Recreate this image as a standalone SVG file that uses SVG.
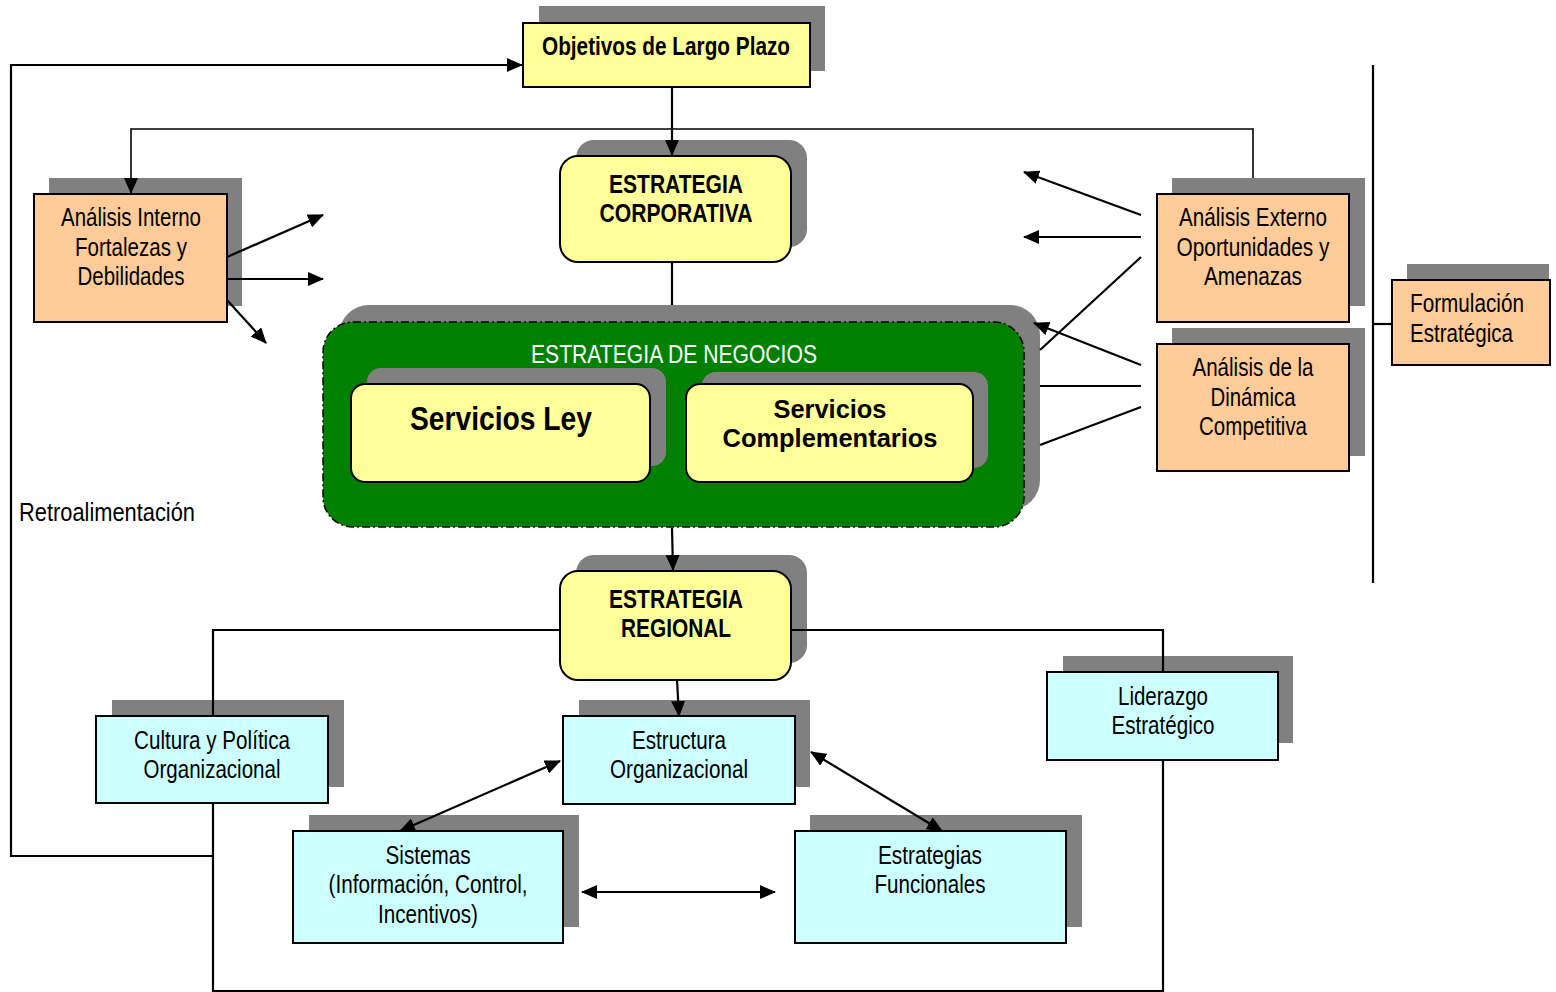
<svg xmlns="http://www.w3.org/2000/svg" width="1556" height="992" viewBox="0 0 1556 992">
<style>
.sh{fill:#808080}
.box{stroke:#000;stroke-width:2}
.pe{fill:#FFCC99}
.ye{fill:#FFFF99}
.cy{fill:#CCFFFF}
.t{font-family:"Liberation Sans Narrow","Arial Narrow","Liberation Sans",Arial,sans-serif;font-size:25px;text-anchor:middle;fill:#000}
.l{text-anchor:start}
.b{font-weight:bold}
.w{fill:#fff}
.c{fill:none;stroke:#000;stroke-width:2.2}
.thin{stroke-width:1.6}
</style>
<defs>
<marker id="ah" viewBox="0 0 16 14" refX="15" refY="7" markerWidth="16" markerHeight="14" markerUnits="userSpaceOnUse" orient="auto-start-reverse">
<path d="M0,0 L16,7 L0,14 z" fill="#000"/>
</marker>
</defs>

<g id="n-objetivos">
<rect class="sh" x="539" y="6" width="286" height="65"/>
<rect class="box ye" x="523" y="23" width="287" height="64"/>
<text class="t b" x="666" y="55" textLength="248" lengthAdjust="spacingAndGlyphs">Objetivos de Largo Plazo</text>
</g>

<g id="n-corporativa">
<rect class="sh" x="576" y="140" width="231" height="107" rx="18"/>
<rect class="box ye" x="560" y="156" width="231" height="106" rx="18"/>
<text class="t b" x="676" y="193" textLength="134" lengthAdjust="spacingAndGlyphs">ESTRATEGIA</text>
<text class="t b" x="676" y="222" textLength="153" lengthAdjust="spacingAndGlyphs">CORPORATIVA</text>
</g>

<g id="n-interno">
<rect class="sh" x="49" y="178" width="193" height="128"/>
<rect class="box pe" x="34" y="194" width="193" height="128"/>
<text class="t" x="131" y="226" textLength="140" lengthAdjust="spacingAndGlyphs">Análisis Interno</text>
<text class="t" x="131" y="256" textLength="112" lengthAdjust="spacingAndGlyphs">Fortalezas y</text>
<text class="t" x="131" y="285" textLength="107" lengthAdjust="spacingAndGlyphs">Debilidades</text>
</g>

<g id="n-externo">
<rect class="sh" x="1172" y="178" width="193" height="128"/>
<rect class="box pe" x="1157" y="194" width="192" height="128"/>
<text class="t" x="1253" y="226" textLength="148" lengthAdjust="spacingAndGlyphs">Análisis Externo</text>
<text class="t" x="1253" y="256" textLength="153" lengthAdjust="spacingAndGlyphs">Oportunidades y</text>
<text class="t" x="1253" y="285" textLength="98" lengthAdjust="spacingAndGlyphs">Amenazas</text>
</g>

<g id="n-dinamica">
<rect class="sh" x="1172" y="328" width="193" height="128"/>
<rect class="box pe" x="1157" y="344" width="192" height="127"/>
<text class="t" x="1253" y="376" textLength="121" lengthAdjust="spacingAndGlyphs">Análisis de la</text>
<text class="t" x="1253" y="406" textLength="85" lengthAdjust="spacingAndGlyphs">Dinámica</text>
<text class="t" x="1253" y="435" textLength="108" lengthAdjust="spacingAndGlyphs">Competitiva</text>
</g>

<g id="n-formulacion">
<rect class="sh" x="1407" y="264" width="142" height="84"/>
<rect class="box pe" x="1392" y="280" width="158" height="85"/>
<text class="t l" x="1410" y="312" textLength="114" lengthAdjust="spacingAndGlyphs">Formulación</text>
<text class="t l" x="1410" y="342" textLength="103" lengthAdjust="spacingAndGlyphs">Estratégica</text>
</g>

<g id="n-negocios">
<rect class="sh" x="339" y="305" width="701" height="205" rx="30"/>
<rect x="323" y="322" width="701" height="205" rx="30" fill="#008000" stroke="#000" stroke-width="1.5" stroke-dasharray="8,3,2,3"/>
<text class="t w" x="674" y="363" textLength="286" lengthAdjust="spacingAndGlyphs">ESTRATEGIA DE NEGOCIOS</text>
</g>

<g id="n-ley">
<rect class="sh" x="367" y="368" width="299" height="98" rx="14"/>
<rect class="box ye" x="351" y="384" width="299" height="98" rx="14"/>
<text class="t b" x="501" y="430" style="font-size:33px" textLength="182" lengthAdjust="spacingAndGlyphs">Servicios Ley</text>
</g>

<g id="n-complementarios">
<rect class="sh" x="702" y="372" width="286" height="96" rx="14"/>
<rect class="box ye" x="686" y="384" width="287" height="98" rx="14"/>
<text class="t b" x="830" y="418" textLength="113" lengthAdjust="spacingAndGlyphs">Servicios</text>
<text class="t b" x="830" y="447" textLength="215" lengthAdjust="spacingAndGlyphs">Complementarios</text>
</g>

<g id="n-retro">
<text class="t l" x="19" y="521" textLength="176" lengthAdjust="spacingAndGlyphs">Retroalimentación</text>
</g>

<g id="n-regional">
<rect class="sh" x="576" y="555" width="231" height="108" rx="18"/>
<rect class="box ye" x="560" y="571" width="231" height="109" rx="18"/>
<text class="t b" x="676" y="608" textLength="134" lengthAdjust="spacingAndGlyphs">ESTRATEGIA</text>
<text class="t b" x="676" y="637" textLength="110" lengthAdjust="spacingAndGlyphs">REGIONAL</text>
</g>

<g id="n-cultura">
<rect class="sh" x="112" y="700" width="232" height="87"/>
<rect class="box cy" x="96" y="716" width="232" height="87"/>
<text class="t" x="212" y="749" textLength="156" lengthAdjust="spacingAndGlyphs">Cultura y Política</text>
<text class="t" x="212" y="778" textLength="137" lengthAdjust="spacingAndGlyphs">Organizacional</text>
</g>

<g id="n-estructura">
<rect class="sh" x="579" y="700" width="231" height="87"/>
<rect class="box cy" x="563" y="716" width="232" height="88"/>
<text class="t" x="679" y="749" textLength="94" lengthAdjust="spacingAndGlyphs">Estructura</text>
<text class="t" x="679" y="778" textLength="138" lengthAdjust="spacingAndGlyphs">Organizacional</text>
</g>

<g id="n-liderazgo">
<rect class="sh" x="1063" y="656" width="230" height="87"/>
<rect class="box cy" x="1047" y="672" width="231" height="88"/>
<text class="t" x="1163" y="705" textLength="90" lengthAdjust="spacingAndGlyphs">Liderazgo</text>
<text class="t" x="1163" y="734" textLength="103" lengthAdjust="spacingAndGlyphs">Estratégico</text>
</g>

<g id="n-sistemas">
<rect class="sh" x="309" y="815" width="270" height="112"/>
<rect class="box cy" x="293" y="831" width="270" height="112"/>
<text class="t" x="428" y="864" textLength="85" lengthAdjust="spacingAndGlyphs">Sistemas</text>
<text class="t" x="428" y="893" textLength="199" lengthAdjust="spacingAndGlyphs">(Información, Control,</text>
<text class="t" x="428" y="923" textLength="100" lengthAdjust="spacingAndGlyphs">Incentivos)</text>
</g>

<g id="n-funcionales">
<rect class="sh" x="810" y="815" width="272" height="112"/>
<rect class="box cy" x="795" y="831" width="271" height="112"/>
<text class="t" x="930" y="864" textLength="104" lengthAdjust="spacingAndGlyphs">Estrategias</text>
<text class="t" x="930" y="893" textLength="111" lengthAdjust="spacingAndGlyphs">Funcionales</text>
</g>

<g id="connectors">
<path class="c" d="M213,856 H11 V65 H522" marker-end="url(#ah)"/>
<path class="c thin" d="M1253,178 V129 H131 V193" marker-end="url(#ah)"/>
<path class="c" d="M672,87 V155" marker-end="url(#ah)"/>
<path class="c" d="M672,262 V305"/>
<path class="c" d="M672,528 L673,570" marker-end="url(#ah)"/>
<path class="c" d="M560,630 H213 V716"/>
<path class="c" d="M791,630 H1163 V672"/>
<path class="c" d="M677,680 L679,716" marker-end="url(#ah)"/>
<path class="c" d="M213,803 V991 H1163 V760"/>
<path class="c" d="M400,831 L560,761" marker-start="url(#ah)" marker-end="url(#ah)"/>
<path class="c" d="M811,752 L942,831" marker-start="url(#ah)" marker-end="url(#ah)"/>
<path class="c" d="M582,892 H775" marker-start="url(#ah)" marker-end="url(#ah)"/>
<path class="c" d="M227,257 L323,215" marker-end="url(#ah)"/>
<path class="c" d="M227,279 H323" marker-end="url(#ah)"/>
<path class="c" d="M227,300 L266,343" marker-end="url(#ah)"/>
<path class="c" d="M1141,215 L1024,172" marker-end="url(#ah)"/>
<path class="c" d="M1141,237 H1024" marker-end="url(#ah)"/>
<path class="c" d="M1141,257 L1040,350"/>
<path class="c" d="M1141,365 L1034,323" marker-end="url(#ah)"/>
<path class="c" d="M1141,386 H1040"/>
<path class="c" d="M1141,407 L1040,445"/>
<path class="c" d="M1373,65 V583"/>
<path class="c" d="M1373,324 H1392"/>
</g>
</svg>
